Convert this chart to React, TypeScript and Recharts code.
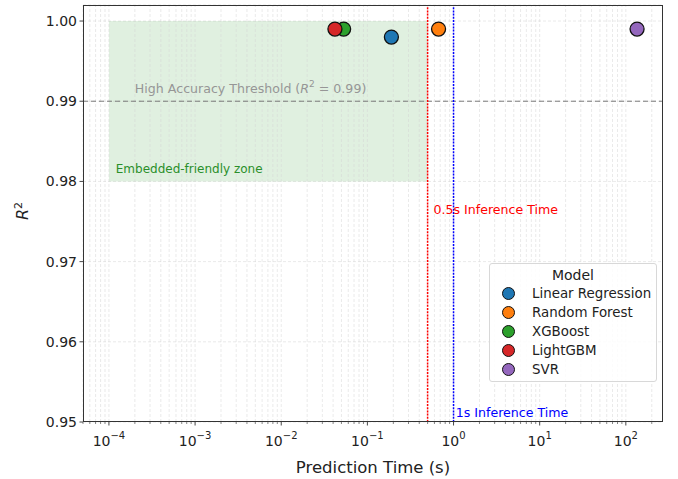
import { ScatterChart, Scatter, XAxis, YAxis, CartesianGrid, ReferenceLine, ReferenceArea, ReferenceDot } from 'recharts';

const models = ['Linear Regression', 'Random Forest', 'XGBoost', 'LightGBM', 'SVR'];
const predictionTimes = [0.19, 0.67, 0.053, 0.042, 135];
const r2Scores = [0.998, 0.999, 0.999, 0.999, 0.999];
const colors = ['#1f77b4', '#ff7f0e', '#2ca02c', '#d62728', '#9467bd'];

const majorTicks = [1e-4, 1e-3, 1e-2, 1e-1, 1, 10, 100];
const yTicks = [0.95, 0.96, 0.97, 0.98, 0.99, 1.0];
const xDomain = [5e-5, 270];
const yDomain = [0.95, 1.002];

// minor log ticks (2..9 x each decade) inside the domain
const allXTicks: number[] = [];
for (let k = -5; k <= 2; k++) {
  for (let m = 1; m <= 9; m++) {
    const v = m * Math.pow(10, k);
    if (v >= xDomain[0] && v <= xDomain[1]) allXTicks.push(v);
  }
}

const FONT = '"DejaVu Sans", sans-serif';
const W = 678;
const H = 479;
const PLOT = { left: 83, top: 5, right: 663, bottom: 422 };

const XTick = (props: any) => {
  const { x, y, payload } = props;
  const lg = Math.log10(payload.value);
  const exp = Math.round(lg);
  const major = majorTicks.some((t) => Math.abs(Math.log10(t) - lg) < 1e-6);
  return (
    <g>
      <line x1={x} x2={x} y1={y} y2={y + (major ? 3.5 : 2)} stroke="#333" strokeWidth={major ? 0.9 : 0.6} />
      {major && (
        <text x={x} y={y + 24} textAnchor="middle" fontSize={14} fill="#222" fontFamily={FONT}>
          10<tspan dy={-7} fontSize={10}>{exp < 0 ? '\u2212' + -exp : String(exp)}</tspan>
        </text>
      )}
    </g>
  );
};

const YTick = (props: any) => {
  const { x, y, payload } = props;
  return (
    <g>
      <line x1={x} x2={x - 3.5} y1={y} y2={y} stroke="#333" strokeWidth={0.9} />
      <text x={x - 6} y={y + 5} textAnchor="end" fontSize={14} fill="#222" fontFamily={FONT}>
        {payload.value.toFixed(2)}
      </text>
    </g>
  );
};

const note = (content: React.ReactNode, color: string, size = 13) => ({
  content: (p: any) => (
    <text x={p.viewBox.x} y={p.viewBox.y} fontSize={size} fill={color} fontFamily={FONT}>
      {content}
    </text>
  ),
});

export default function App() {
  return (
    <div style={{ position: 'absolute', left: 0, top: 0, width: W, height: H, background: '#fff', fontFamily: FONT }}>
      <ScatterChart width={W} height={H} margin={{ top: 5, right: 15, left: 23, bottom: 27 }}>
        <CartesianGrid vertical={false} stroke="#d4d4d4" strokeDasharray="3 2" strokeWidth={0.5} />
        <XAxis
          type="number"
          dataKey="x"
          scale="log"
          domain={xDomain}
          ticks={allXTicks}
          interval={0}
          allowDataOverflow
          height={30}
          tickSize={0}
          tickMargin={0}
          tickLine={false}
          axisLine={false}
          tick={<XTick />}
        />
        <YAxis
          type="number"
          dataKey="y"
          domain={yDomain}
          ticks={yTicks}
          interval={0}
          allowDataOverflow
          width={60}
          tickSize={0}
          tickMargin={0}
          tickLine={false}
          axisLine={false}
          tick={<YTick />}
        />
        <ReferenceArea x1={1e-4} x2={0.5} y1={0.98} y2={1.0} fill="#008000" fillOpacity={0.12} stroke="none" ifOverflow="visible" />
        {/* vertical grid (major + minor) */}
        {allXTicks.map((t) => (
          <ReferenceLine key={'g' + t} x={t} stroke="#d4d4d4" strokeDasharray="3 2" strokeWidth={0.5} />
        ))}
        <ReferenceLine y={0.99} stroke="#7a7a7a" strokeDasharray="5 3" strokeWidth={1} />
        <ReferenceLine x={0.5} stroke="#ff0000" strokeDasharray="2 1.2" strokeWidth={1.5} />
        <ReferenceLine x={1} stroke="#0000ff" strokeDasharray="2 1.2" strokeWidth={1.5} />
        <ReferenceDot x={2e-4} y={0.991} r={0} stroke="none" fill="none"
          label={note(<>High Accuracy Threshold (<tspan fontStyle="italic">R</tspan><tspan dy={-6} fontSize={9}>2</tspan><tspan dy={6}> = 0.99)</tspan></>, '#969696', 12.6)} />
        <ReferenceDot x={1.2e-4} y={0.981} r={0} stroke="none" fill="none" label={note('Embedded-friendly zone', '#2a8f2a', 12)} />
        <ReferenceDot x={0.585} y={0.976} r={0} stroke="none" fill="none" label={note('0.5s Inference Time', '#ff0000', 12.6)} />
        <ReferenceDot x={1.06} y={0.9506} r={0} stroke="none" fill="none" label={note('1s Inference Time', '#0000ff', 12.6)} />
        {[2, 3, 0, 1, 4].map((i) => (
          <Scatter
            key={models[i]}
            name={models[i]}
            data={[{ x: predictionTimes[i], y: r2Scores[i] }]}
            isAnimationActive={false}
            shape={(p: any) => (
              <circle cx={p.cx} cy={p.cy} r={7} fill={colors[i]} stroke="#111" strokeWidth={1.3} />
            )}
          />
        ))}
      </ScatterChart>

      {/* frame */}
      <div style={{ position: 'absolute', left: PLOT.left, top: PLOT.top, width: PLOT.right - PLOT.left, height: PLOT.bottom - PLOT.top, border: '1px solid #333', boxSizing: 'border-box', pointerEvents: 'none' }} />

      {/* axis titles */}
      <div style={{ position: 'absolute', left: PLOT.left, width: PLOT.right - PLOT.left, top: 459, textAlign: 'center', fontSize: 16.5, color: '#222', lineHeight: '18px' }}>
        Prediction Time (s)
      </div>
      <div style={{ position: 'absolute', left: 22, top: 211, transform: 'translate(-50%, -50%) rotate(-90deg)', fontSize: 16, color: '#222', whiteSpace: 'nowrap' }}>
        <i>R</i><sup style={{ fontSize: 11 }}>2</sup>
      </div>

      {/* legend */}
      <div style={{ position: 'absolute', left: 489, top: 263, width: 168, height: 119, boxSizing: 'border-box', border: '1px solid #d8d8d8', borderRadius: 3, background: 'rgba(255,255,255,0.85)', fontSize: 13.4, color: '#222' }}>
        <div style={{ textAlign: 'center', fontSize: 14, marginTop: 3, lineHeight: '17px' }}>Model</div>
        {models.map((m, i) => (
          <div key={m} style={{ display: 'flex', alignItems: 'center', height: 19, paddingLeft: 12 }}>
            <span style={{ width: 13, height: 13, borderRadius: '50%', background: colors[i], border: '1.3px solid #111', boxSizing: 'border-box', marginRight: 17 }} />
            <span>{m}</span>
          </div>
        ))}
      </div>
    </div>
  );
}
